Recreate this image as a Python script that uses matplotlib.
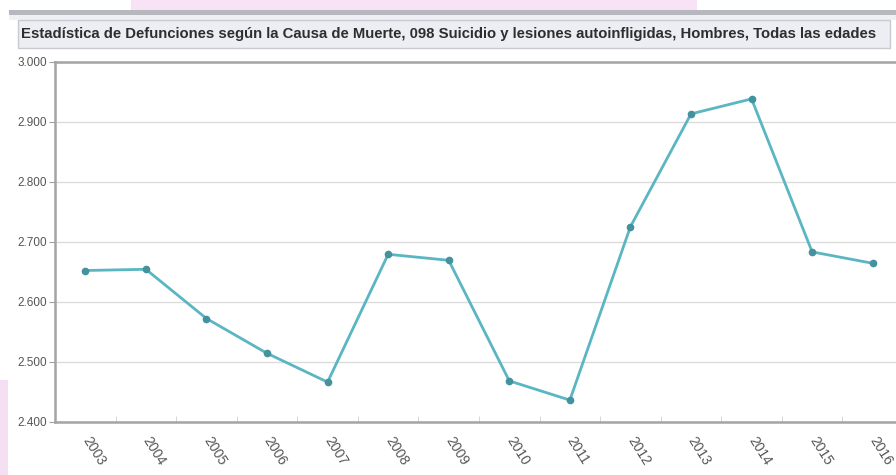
import matplotlib
matplotlib.use("Agg")
import matplotlib.pyplot as plt
from matplotlib.patches import Rectangle
from matplotlib.ticker import FuncFormatter, FixedLocator

years = ["2003", "2004", "2005", "2006", "2007", "2008", "2009",
         "2010", "2011", "2012", "2013", "2014", "2015", "2016"]
deaths = [2652, 2654, 2572, 2514, 2466, 2679, 2669,
          2468, 2436, 2725, 2913, 2938, 2683, 2664]
y_ticks = [2400, 2500, 2600, 2700, 2800, 2900, 3000]
title = ("Estadística de Defunciones según la Causa de Muerte, 098 Suicidio y "
         "lesiones autoinfligidas, Hombres, Todas las edades")

plt.rcParams['font.family'] = ['Liberation Sans Narrow', 'Liberation Sans', 'DejaVu Sans']

W, H = 896, 475
fig = plt.figure(figsize=(W / 100, H / 100), dpi=100)
fig.patch.set_facecolor("white")

def px_rect(x0, y0, x1, y1, **kw):
    r = Rectangle((x0 / W, 1 - y1 / H), (x1 - x0) / W, (y1 - y0) / H,
                  transform=fig.transFigure, **kw)
    fig.patches.append(r)

# decorative page background
px_rect(131, 0, 697, 10, facecolor="#f8e2f6", edgecolor="none", zorder=0)
px_rect(0, 380, 8, 475, facecolor="#f5e0f3", edgecolor="none", zorder=0)
px_rect(9, 10, 896, 15, facecolor="#b6b8be", edgecolor="none", zorder=0)
px_rect(9, 15, 896, 20, facecolor="#eef0f6", edgecolor="none", zorder=0)
# title bar
px_rect(18, 20, 890, 48, facecolor="#eceef3", edgecolor="#c8cad0", linewidth=1.0, zorder=0)

t = fig.text(21 / W, 1 - 34 / H, title, fontsize=10.5, fontweight="bold",
             color="#2e2e2e", ha="left", va="center")
fig.canvas.draw()
bb = t.get_window_extent()
target = 862
t.set_fontsize(10.5 * target / bb.width)

ax = fig.add_axes([55 / W, 1 - 421.7 / H, (903 - 55) / W, (421.7 - 61.7) / H])
x = list(range(len(years)))
ax.plot(x, deaths, color="#5ab6c2", linewidth=2.0, marker="o", markersize=4.5,
        markerfacecolor="#44929e", markeredgecolor="#44929e", zorder=3)

ax.set_xlim(-0.5, len(years) - 0.5)
ax.set_ylim(2400, 3000)
ax.set_yticks(y_ticks)
ax.yaxis.set_major_formatter(FuncFormatter(lambda v, p: f"{int(v):,}".replace(",", ".")))
ax.grid(axis="y", color="#dcdcdc", linewidth=1.0, zorder=0)
ax.set_axisbelow(True)

ax.set_xticks(x)
ax.set_xticklabels(years, rotation=-58, ha="left", va="center",
                   rotation_mode="anchor", fontsize=10, color="#555555")
ax.tick_params(axis="x", length=0, pad=12)
ax.xaxis.set_minor_locator(FixedLocator([i + 0.5 for i in range(len(years) - 1)]))
ax.tick_params(axis="x", which="minor", direction="in", length=4, color="#d0d0d0")
ax.tick_params(axis="y", length=4, color="#a0a0a0", labelsize=8.5,
               labelcolor="#555555", pad=2)

for side in ["left", "bottom", "top"]:
    ax.spines[side].set_color("#a4a4a4")
    ax.spines[side].set_linewidth(1.8)
ax.spines["right"].set_visible(False)

fig.savefig("out.png", dpi=100)
